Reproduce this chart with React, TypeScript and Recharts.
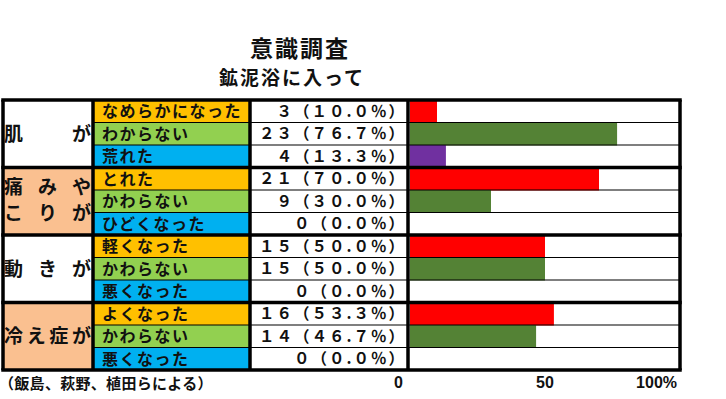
import React from 'react';
import { BarChart, Bar, XAxis, YAxis, Cell, Customized } from 'recharts';

// survey groups, answers and results
const groupLines = [['肌が'], ['痛みや', 'こりが'], ['動きが'], ['冷え症が']];
const answers = [
  ['なめらかになった', 'わからない', '荒れた'],
  ['とれた', 'かわらない', 'ひどくなった'],
  ['軽くなった', 'かわらない', '悪くなった'],
  ['よくなった', 'かわらない', '悪くなった'],
];
const counts = [3, 23, 4, 21, 9, 0, 15, 15, 0, 16, 14, 0];
const percents = [10.0, 76.7, 13.3, 70.0, 30.0, 0.0, 50.0, 50.0, 0.0, 53.3, 46.7, 0.0];
const xTicks = [0, 50, 100];

const title = '意識調査';
const subtitle = '鉱泥浴に入って';
const source = '（飯島、萩野、植田らによる）';

const data = counts.map((c, i) => ({ id: String(i), count: c, pct: percents[i] }));

const W = 726;
const H = 399;
const TOP = 100;
const BOTTOM = 370;
const ROWS = counts.length;
const ROW_H = (BOTTOM - TOP) / ROWS;
const COL = { left: 3, cat: 93, val: 250, bar: 408, right: 680 };

const FONT = "'Noto Sans CJK JP', sans-serif";
const INK = '#111111';
const GROUP_BG = ['#ffffff', '#FAC090'];
const CAT_BG = ['#FFC000', '#92D050', '#00B0F0'];
const BAR_COLORS = ['#FF0000', '#548235', '#7030A0'];

// digits and % full width, the decimal point stays narrow
const toWide = (s: string) =>
  s.replace(/[0-9%]/g, (ch) => String.fromCharCode(ch.charCodeAt(0) + 0xfee0));

const GroupLabel = ({ lines, cy }: { lines: string[]; cy: number }) => {
  const fs = 19;
  const x0 = COL.left + 1;
  const x1 = COL.cat - fs - 2;
  return (
    <g>
      {lines.map((line, li) => {
        const chars = Array.from(line);
        const ly = lines.length === 1 ? cy : cy + (li === 0 ? -14 : 12);
        return chars.map((ch, j) => (
          <text
            key={`${li}-${j}`}
            x={x0 + (j * (x1 - x0)) / (chars.length - 1)}
            y={ly}
            dy="0.36em"
            fontSize={fs}
            fontWeight="bold"
            fontFamily={FONT}
            fill={INK}
          >
            {ch}
          </text>
        ));
      })}
    </g>
  );
};

// table rules, drawn with the last row so they sit above cells and bars
const Rules = () => {
  const parts: React.ReactNode[] = [];
  for (let r = 1; r < ROWS; r++) {
    if (r % 3 === 0) continue;
    const yy = TOP + r * ROW_H;
    parts.push(<line key={`t${r}`} x1={COL.cat} x2={COL.right} y1={yy} y2={yy} stroke="#000" strokeWidth={1.2} />);
  }
  for (let r = 0; r <= ROWS; r += 3) {
    const yy = TOP + r * ROW_H;
    parts.push(<line key={`h${r}`} x1={COL.left - 1.75} x2={COL.right + 1.75} y1={yy} y2={yy} stroke="#000" strokeWidth={3.5} />);
  }
  [COL.left, COL.cat, COL.val, COL.bar, COL.right].forEach((xx) => {
    parts.push(<line key={`v${xx}`} x1={xx} x2={xx} y1={TOP} y2={BOTTOM} stroke="#000" strokeWidth={3.5} />);
  });
  return <g>{parts}</g>;
};

const RowTick = (props: any) => {
  const { y, payload } = props;
  const i = Number(payload.value);
  const g = Math.floor(i / 3);
  const k = i % 3;
  const top = y - ROW_H / 2;
  const label = toWide(`${counts[i]}（${percents[i].toFixed(1)}%）`);
  return (
    <g>
      {k === 0 && (
        <g>
          <rect x={COL.left} y={top} width={COL.cat - COL.left} height={ROW_H * 3} fill={GROUP_BG[g % 2]} />
          <GroupLabel lines={groupLines[g]} cy={top + ROW_H * 1.5} />
        </g>
      )}
      <rect x={COL.cat} y={top} width={COL.val - COL.cat} height={ROW_H} fill={CAT_BG[k]} />
      <text x={102} y={y} dy="0.36em" fontSize={16} letterSpacing={1.5} fontWeight="bold" fontFamily={FONT} fill={INK}>
        {answers[g][k]}
      </text>
      <rect x={COL.val} y={top} width={COL.bar - COL.val} height={ROW_H} fill="#ffffff" />
      <text x={406} y={y} dy="0.36em" textAnchor="end" fontSize={15.5} letterSpacing={2} fontWeight="bold" fontFamily={FONT} fill={INK}>
        {label}
      </text>
      {i === ROWS - 1 && <Rules />}
    </g>
  );
};

const PctTick = (props: any) => {
  const { x, payload } = props;
  const v = payload.value;
  const anchor = v === 50 ? 'middle' : 'end';
  const dx = v === 0 ? -7 : v === 100 ? -3 : 0;
  return (
    <text x={x + dx} y={388} textAnchor={anchor} fontSize={16} fontWeight="bold" fontFamily="'Liberation Sans', Arial, sans-serif" fill={INK}>
      {v === 100 ? '100%' : v}
    </text>
  );
};

const Titles = () => (
  <g>
    <text x={300} y={57} textAnchor="middle" fontSize={23} fontWeight="bold" fontFamily={FONT} fill={INK} letterSpacing={2}>
      {title}
    </text>
    <text x={292} y={85} textAnchor="middle" fontSize={19} fontWeight="bold" fontFamily={FONT} fill={INK} letterSpacing={2}>
      {subtitle}
    </text>
    <text x={-1} y={389} fontSize={15} fontWeight="bold" fontFamily={FONT} fill={INK} letterSpacing={0.3}>
      {source}
    </text>
  </g>
);

export default function App() {
  return (
    <div style={{ position: 'absolute', left: 0, top: 0, width: W, height: H, background: '#ffffff' }}>
      <BarChart
        width={W}
        height={H}
        data={data}
        layout="vertical"
        barCategoryGap={0}
        margin={{ top: TOP, right: W - COL.right, bottom: 0, left: COL.left }}
      >
        <XAxis
          type="number"
          domain={[0, 100]}
          ticks={xTicks}
          axisLine={false}
          tickLine={false}
          height={H - BOTTOM}
          tick={<PctTick />}
        />
        <YAxis
          type="category"
          dataKey="id"
          width={COL.bar + 2 - COL.left}
          interval={0}
          axisLine={false}
          tickLine={false}
          tick={<RowTick />}
        />
        <Bar dataKey="pct" isAnimationActive={false}>
          {data.map((d, i) => (
            <Cell key={d.id} fill={BAR_COLORS[i % 3]} />
          ))}
        </Bar>
        <Customized component={<Titles />} />
      </BarChart>
    </div>
  );
}
